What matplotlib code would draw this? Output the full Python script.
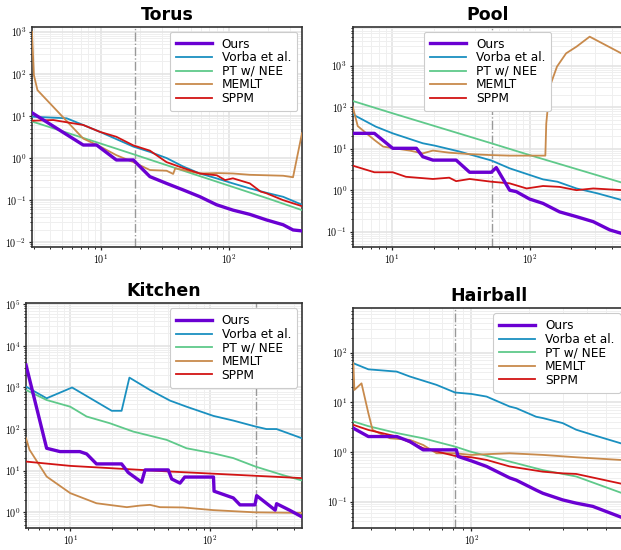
import numpy as np
import matplotlib
matplotlib.use('Agg')
import matplotlib.pyplot as plt
from matplotlib.ticker import LogLocator, FuncFormatter, NullFormatter

plt.rcParams['mathtext.fontset'] = 'cm'
plt.rcParams['font.family'] = ['DejaVu Sans']

labels = ['Ours', 'Vorba et al.', 'PT w/ NEE', 'MEMLT', 'SPPM']
colors = ['#6a00d2', '#1a90c0', '#5fc98a', '#c88a4c', '#d21414']
widths = [2.4, 1.3, 1.3, 1.3, 1.3]

# Torus (time, error)
torus_ours = [(2.9, 11.9), (7.28, 2.04), (9.25, 2.04), (13.2, 0.90), (17.9, 0.90), (24.1, 0.362),
              (32.5, 0.25), (43.8, 0.175), (59.1, 0.121), (79.6, 0.078), (107, 0.058), (145, 0.046),
              (195, 0.034), (264, 0.026), (315, 0.0196), (370, 0.0186)]
torus_vorba = [(2.9, 9.6), (5.4, 8.8), (7.28, 6.1), (9.8, 4.2), (17.9, 1.87), (24.1, 1.4), (32.5, 1.0),
               (43.8, 0.63), (59.1, 0.43), (79.6, 0.33), (107, 0.25), (145, 0.19), (195, 0.15),
               (264, 0.12), (370, 0.078)]
torus_pt = [(2.9, 7.4), (10, 2.2), (18.4, 1.2), (50, 0.44), (100, 0.22), (200, 0.11), (370, 0.058)]
torus_memlt = [(2.9, 1000), (3.0, 94), (3.2, 41), (7.28, 2.9), (9.8, 1.9), (13.2, 1.17), (17.9, 0.8),
               (24.1, 0.52), (32.5, 0.5), (36.6, 0.42), (38, 0.57), (59, 0.43), (80, 0.44),
               (107, 0.43), (145, 0.40), (195, 0.39), (264, 0.38), (315, 0.35), (370, 3.9)]
torus_sppm = [(2.9, 7.7), (4.25, 8.0), (7.28, 6.1), (9.8, 4.2), (13.2, 3.2), (17.9, 2.0), (24.1, 1.5),
              (32.5, 0.8), (43.8, 0.58), (59, 0.43), (80, 0.39), (93, 0.30), (107, 0.33), (145, 0.25),
              (176, 0.16), (195, 0.146), (264, 0.10), (370, 0.072)]

# Pool
pool_ours = [(5.17, 23.4), (7.43, 23.4), (10.1, 10.2), (15, 10.2), (16.7, 6.4), (19.8, 5.3), (29.2, 5.3),
             (36.6, 2.7), (52.6, 2.7), (57.2, 3.5), (71.5, 1.0), (80, 0.92), (100, 0.61), (125, 0.48),
             (165, 0.30), (219, 0.23), (290, 0.174), (383, 0.11), (475, 0.089)]
pool_vorba = [(5.17, 67), (7.6, 34), (10.1, 23.4), (16.7, 13.5), (20.5, 11.8), (31, 8.5), (52.6, 5.2),
              (71.5, 3.36), (125, 1.82), (159, 1.6), (219, 1.1), (310, 0.84), (475, 0.57)]
pool_pt = [(5.17, 141), (10.1, 71), (52.6, 13.5), (100, 7.0), (475, 1.5)]
pool_memlt = [(5.17, 103), (5.62, 35), (7.43, 16.2), (8.6, 11.2), (13.4, 9.0), (16.7, 7.7), (19.8, 9.0),
              (26, 8.0), (36.6, 7.4), (52.6, 7.0), (71.5, 6.8), (130, 6.8), (132, 40), (140, 312),
              (158, 950), (184, 1980), (219, 2870), (273, 5000), (475, 1900)]
pool_sppm = [(5.17, 3.9), (7.43, 2.7), (10.1, 2.7), (12.6, 2.1), (19.8, 1.86), (26, 2.0), (29.2, 1.65),
             (36.6, 1.86), (52.6, 1.6), (71.5, 1.46), (95, 1.1), (125, 1.26), (165, 1.2), (219, 1.0),
             (290, 1.1), (475, 1.0)]

# Kitchen
kitchen_ours = [(4.82, 3480), (6.77, 34.5), (8.44, 28.7), (11.7, 28.7), (13.1, 25.2), (15.4, 14.5),
                (23.3, 14.5), (26.0, 9.0), (32.4, 5.26), (34.3, 10.4), (50.3, 10.4), (53.2, 6.3),
                (61, 5.0), (66, 7.0), (106, 7.0), (107, 3.2), (147, 2.2), (164, 1.5), (210, 1.5),
                (216, 2.5), (256, 1.6), (293, 1.12), (300, 1.6), (371, 1.12), (456, 0.77)]
kitchen_vorba = [(4.82, 1050), (6.77, 550), (10.3, 1000), (19.8, 275), (23.3, 275), (26.5, 1730),
                 (37.2, 872), (51.8, 483), (68, 345), (106, 207), (147, 160), (212, 115), (254, 100),
                 (300, 100), (456, 60)]
kitchen_pt = [(4.82, 870), (6.77, 500), (10, 345), (13.1, 200), (19.2, 138), (28.2, 87), (48.9, 55),
              (68, 34.5), (106, 26), (147, 20), (212, 12.5), (329, 7.9), (456, 5.8)]
kitchen_memlt = [(4.82, 60), (5.1, 32), (6.77, 7.2), (10, 2.87), (15.4, 1.64), (25.4, 1.32), (31.5, 1.44),
                 (37.2, 1.5), (43.8, 1.32), (64, 1.3), (106, 1.12), (212, 0.99), (456, 0.96)]
kitchen_sppm = [(4.82, 16.5), (10, 13), (48.9, 9.6), (456, 6.6)]

# Hairball
hair_ours = [(24.4, 3.0), (29.2, 2.04), (41, 2.04), (47.9, 1.62), (56.2, 1.1), (83.6, 1.1), (85.3, 0.81),
             (100, 0.66), (120, 0.51), (158, 0.30), (171, 0.27), (217, 0.17), (235, 0.147), (298, 0.108),
             (350, 0.093), (427, 0.08), (630, 0.045)]
hair_vorba = [(24.4, 61), (29.2, 46), (41, 41.4), (47.9, 33), (65.9, 22.4), (82.3, 15.7), (100, 14.7),
              (120, 13), (158, 8.2), (171, 7.6), (217, 5.1), (235, 4.8), (298, 3.8), (350, 2.8),
              (427, 2.2), (630, 1.4)]
hair_pt = [(24.4, 4.1), (29.2, 3.3), (41, 2.4), (56.2, 1.88), (82.3, 1.28), (100, 1.0), (158, 0.64),
           (235, 0.43), (350, 0.32), (630, 0.14)]
hair_memlt = [(24.4, 61), (24.7, 17.7), (26.9, 24), (29.2, 6.0), (30.7, 2.77), (37.8, 1.88), (47.9, 1.75),
              (56.2, 1.38), (65.9, 0.94), (82, 0.94), (100, 0.87), (120, 0.9), (158, 0.94), (235, 0.87),
              (350, 0.78), (630, 0.68)]
hair_sppm = [(24.4, 3.5), (29.2, 2.77), (41, 2.04), (56.2, 1.19), (82.3, 0.83), (100, 0.78), (120, 0.69),
             (158, 0.51), (235, 0.40), (298, 0.37), (350, 0.36), (630, 0.22)]

panels = [
    ('Torus', [torus_ours, torus_vorba, torus_pt, torus_memlt, torus_sppm], 18.4,
     (2.9, 370), (0.0076, 1315), [0.0515, 0.5504, 0.4348, 0.401], 'upper right'),
    ('Pool', [pool_ours, pool_vorba, pool_pt, pool_memlt, pool_sppm], 53.6,
     (5.17, 475), (0.0435, 8700), [0.568, 0.5515, 0.4348, 0.4], 'upper center'),
    ('Kitchen', [kitchen_ours, kitchen_vorba, kitchen_pt, kitchen_memlt, kitchen_sppm], 212,
     (4.82, 456), (0.41, 1.06e5), [0.0419, 0.0395, 0.4444, 0.409], 'upper right'),
    ('Hairball', [hair_ours, hair_vorba, hair_pt, hair_memlt, hair_sppm], 82,
     (24.4, 630), (0.029, 780), [0.569, 0.0395, 0.438, 0.4], 'upper right'),
]

fig = plt.figure(figsize=(6.21, 5.5), dpi=100)

def pow_label(v, pos):
    return r'$10^{%d}$' % int(round(np.log10(v)))

for title, series, tline, xlim, ylim, rect, loc in panels:
    ax = fig.add_axes(rect)
    ax.set_xscale('log')
    ax.set_yscale('log')
    ax.grid(True, which='major', color='#e2e2e2', lw=1.1)
    ax.grid(True, which='minor', color='#efefef', lw=0.7)
    ax.set_axisbelow(True)
    handles = [None] * 5
    for i in [1, 2, 3, 4, 0]:
        xs = [p[0] for p in series[i]]
        ys = [p[1] for p in series[i]]
        h, = ax.plot(xs, ys, color=colors[i], lw=widths[i], label=labels[i], zorder=3 if i else 4)
        handles[i] = h
    ax.axvline(tline, color='#999999', lw=1.0, ls='-.', zorder=2)
    ax.set_xlim(*xlim)
    ax.set_ylim(*ylim)
    ax.yaxis.set_major_locator(LogLocator(base=10, numticks=12))
    ax.yaxis.set_major_formatter(FuncFormatter(pow_label))
    ax.yaxis.set_minor_formatter(NullFormatter())
    ax.xaxis.set_major_formatter(FuncFormatter(pow_label))
    ax.xaxis.set_minor_formatter(NullFormatter())
    ax.tick_params(which='both', labelsize=7.2, color='#222222', direction='out', pad=1.5)
    ax.tick_params(which='major', length=2.5, width=0.9)
    ax.tick_params(which='minor', length=1.5, width=0.7)
    for s in ax.spines.values():
        s.set_color('#333333')
        s.set_linewidth(1.2)
    ax.set_title(title, fontsize=12.5, fontweight='bold', pad=5)
    leg = ax.legend(handles=handles, loc=loc, fontsize=8.7, handlelength=3.0, labelspacing=0.05,
                    borderpad=0.5, handletextpad=0.8, borderaxespad=0.4, framealpha=1.0,
                    edgecolor='#cccccc')
    leg.get_frame().set_linewidth(0.8)

fig.savefig('out.png', dpi=100)
